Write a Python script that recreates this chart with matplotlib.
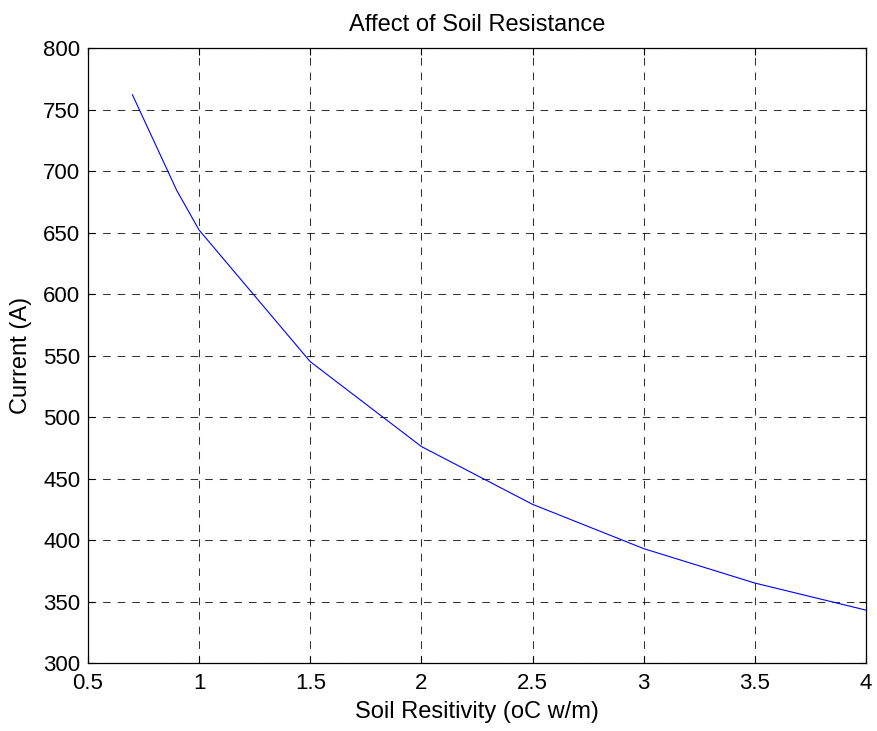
import matplotlib
matplotlib.use("Agg")
import matplotlib.pyplot as plt

# Soil thermal resistivity vs. rated current
resistivity = [0.7, 0.8, 0.9, 1.0, 1.5, 2.0, 2.5, 3.0, 3.5, 4.0]
current = [762, 723, 684, 652, 545, 476, 429, 393, 365, 343]

x_ticks = [0.5, 1, 1.5, 2, 2.5, 3, 3.5, 4]
x_tick_labels = ["0.5", "1", "1.5", "2", "2.5", "3", "3.5", "4"]
y_ticks = [300, 350, 400, 450, 500, 550, 600, 650, 700, 750, 800]

plt.rcParams["font.family"] = ["Liberation Sans", "DejaVu Sans"]
plt.rcParams["lines.scale_dashes"] = False

tick_fs = 16
label_fs = 17

fig = plt.figure(figsize=(8.77, 7.31), dpi=100)
ax = fig.add_axes([0.1003, 0.093, 0.8872, 0.8413])

ax.plot(resistivity, current, color="#0000ff", linewidth=0.8)

ax.set_xlim(0.5, 4)
ax.set_ylim(300, 800)
ax.set_xticks(x_ticks)
ax.set_xticklabels(x_tick_labels)
ax.set_yticks(y_ticks)

ax.grid(True, color="black", linestyle=(0, (5.5, 5)), linewidth=0.75, alpha=0.8)
ax.tick_params(direction="in", top=True, right=True, length=5, width=0.8,
               labelsize=tick_fs)
ax.tick_params(axis="y", pad=5.5)
ax.tick_params(axis="x", pad=7.5)
for s in ax.spines.values():
    s.set_linewidth(0.9)

ax.set_title("Affect of Soil Resistance", fontsize=label_fs, pad=12)
ax.set_xlabel("Soil Resitivity (oC w/m)", fontsize=label_fs, labelpad=5)
ax.set_ylabel("Current (A)", fontsize=label_fs, labelpad=8)

fig.savefig("out.png", dpi=100)
